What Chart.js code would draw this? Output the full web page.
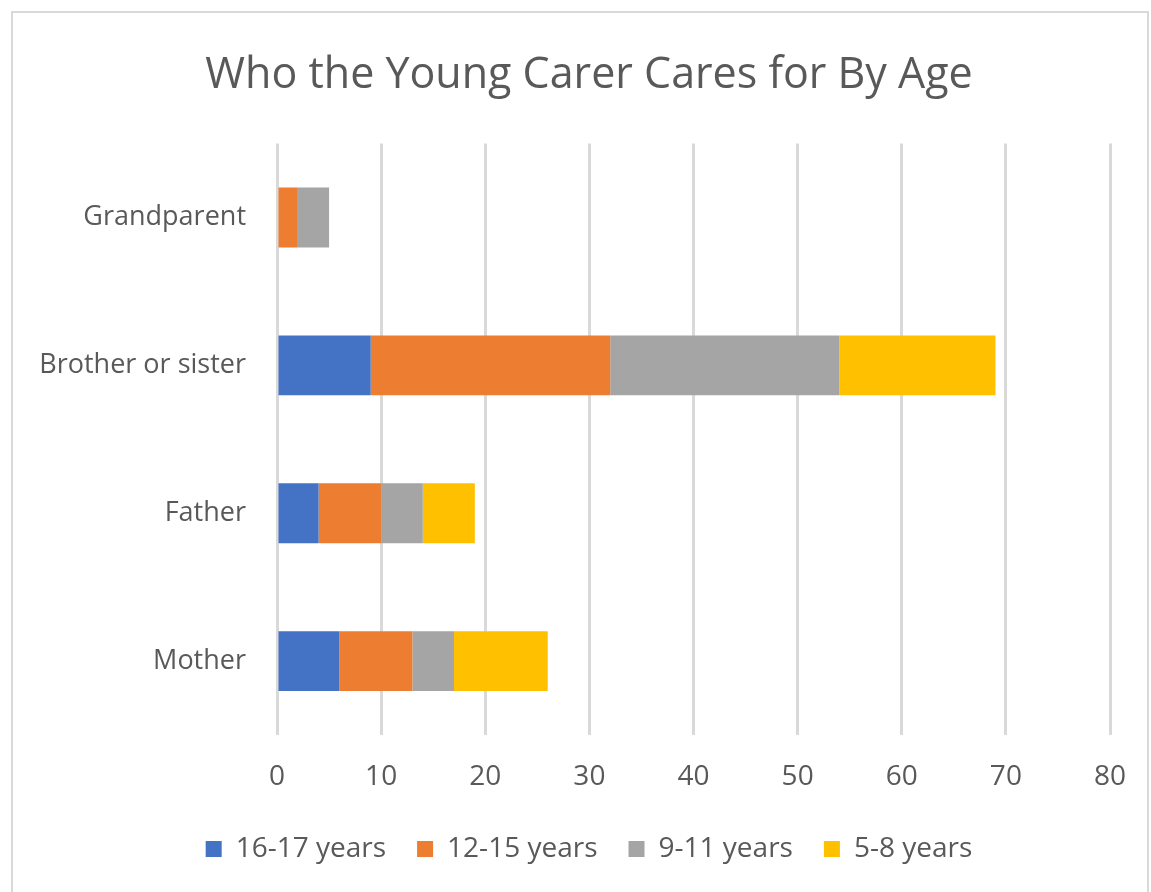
<!DOCTYPE html>
<html>
<head>
<meta charset="utf-8">
<script src="https://cdn.jsdelivr.net/npm/chart.js@4"></script>
<style>
  html, body { margin: 0; padding: 0; background: #fff; overflow: hidden; width: 1151px; height: 892px; }
  #frame { position: absolute; left: 11px; top: 11px; width: 1134px; height: 900px; border: 2px solid #d9d9d9; }
  #chart { position: absolute; left: 0; top: 0; }
</style>
</head>
<body>
<div id="frame"></div>
<!-- canvas is a bit wider than the window so the title and legend sit a little right of centre, as in the original -->
<canvas id="chart" width="1219" height="892"></canvas>
<script>
// categories top to bottom, as in the picture
const relations = ["Grandparent", "Brother or sister", "Father", "Mother"];
const ageGroups = ["16-17 years", "12-15 years", "9-11 years", "5-8 years"];

// number of young carers per relation
const age16to17 = [0, 9, 4, 6];
const age12to15 = [2, 23, 6, 7];
const age9to11 = [3, 22, 4, 4];
const age5to8 = [0, 15, 5, 9];

const xTicks = [0, 10, 20, 30, 40, 50, 60, 70, 80];

const colours = ["#4472C4", "#ED7D31", "#A5A5A5", "#FFC000"];
const textColour = "#595959";
const fontFamily = "'Open Sans', 'DejaVu Sans', sans-serif";

const series = [age16to17, age12to15, age9to11, age5to8];

new Chart(document.getElementById("chart"), {
    type: "bar",
    data: {
        labels: relations,
        datasets: series.map((values, i) => ({
            label: ageGroups[i],
            data: values,
            backgroundColor: colours[i],
            borderWidth: 0,
            barPercentage: 0.405,
            categoryPercentage: 1
        }))
    },
    options: {
        indexAxis: "y",
        responsive: false,
        animation: false,
        layout: { padding: { left: 0, right: 41, top: 0, bottom: 19 } },
        scales: {
            x: {
                stacked: true,
                min: xTicks[0],
                max: xTicks[xTicks.length - 1],
                afterBuildTicks: (axis) => { axis.ticks = xTicks.map(v => ({ value: v })); },
                afterFit: (axis) => { axis.height = 69; },
                grid: { color: "#d9d9d9", lineWidth: 3, drawTicks: false },
                border: { display: false },
                ticks: { color: textColour, font: { family: fontFamily, size: 28 }, padding: 25 }
            },
            y: {
                stacked: true,
                afterFit: (axis) => { axis.width = 277; },
                grid: { display: false, drawTicks: false },
                border: { display: false },
                ticks: { color: textColour, font: { family: fontFamily, size: 27 }, padding: 31 }
            },
            // empty spacer on the right, keeps the plot ending at 80 inside the window
            spacer: {
                type: "linear",
                position: "right",
                afterFit: (axis) => { axis.width = 68; },
                grid: { display: false, drawTicks: false },
                border: { display: false },
                ticks: { display: false }
            }
        },
        plugins: {
            title: {
                display: true,
                text: "Who the Young Carer Cares for By Age",
                color: textColour,
                font: { family: fontFamily, size: 43, weight: "normal" },
                padding: { top: 50, bottom: 42 }
            },
            legend: {
                position: "bottom",
                labels: {
                    color: textColour,
                    font: { family: fontFamily, size: 28 },
                    boxWidth: 16,
                    boxHeight: 16,
                    padding: 31
                }
            },
            tooltip: { enabled: false }
        }
    }
});
</script>
</body>
</html>
